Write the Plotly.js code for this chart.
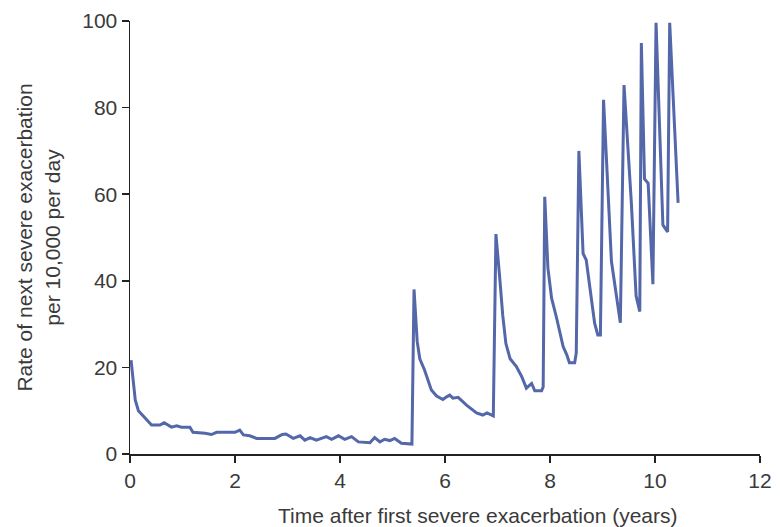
<!DOCTYPE html>
<html>
<head>
<meta charset="utf-8">
<script src="https://cdn.plot.ly/plotly-3.0.1.min.js"></script>
<style>
  html, body { margin: 0; padding: 0; background: #ffffff; }
  #chart { width: 780px; height: 527px; }
</style>
</head>
<body>
<div id="chart"></div>
<script>
// Time after first severe exacerbation (years)
const timeYears = [
  0.02, 0.06, 0.10, 0.16, 0.29, 0.41, 0.57, 0.65, 0.79, 0.89,
  0.98, 1.14, 1.20, 1.43, 1.55, 1.65, 2.00, 2.09, 2.16, 2.28,
  2.41, 2.76, 2.90, 2.97, 3.11, 3.24, 3.33, 3.43, 3.55, 3.74,
  3.84, 3.97, 4.09, 4.22, 4.35, 4.57, 4.66, 4.76, 4.85, 4.95,
  5.04, 5.17, 5.37, 5.41, 5.47, 5.52, 5.61, 5.74, 5.84, 5.96,
  6.03, 6.09, 6.15, 6.25, 6.41, 6.60, 6.72, 6.80, 6.92, 6.97,
  7.04, 7.10, 7.16, 7.24, 7.36, 7.46, 7.55, 7.65, 7.71, 7.84,
  7.87, 7.90, 7.96, 8.03, 8.12, 8.25, 8.32, 8.37, 8.47, 8.50,
  8.55, 8.63, 8.69, 8.79, 8.85, 8.91, 8.96, 9.02, 9.17, 9.34,
  9.41, 9.55, 9.64, 9.71, 9.74, 9.80, 9.87, 9.96, 10.02, 10.15,
  10.24, 10.28, 10.44
];
// Rate of next severe exacerbation per 10,000 per day
const ratePer10000 = [
  21.7, 17.0, 12.5, 10.0, 8.3, 6.7, 6.7, 7.2, 6.2, 6.5,
  6.2, 6.2, 5.0, 4.8, 4.5, 5.0, 5.0, 5.5, 4.4, 4.2,
  3.6, 3.6, 4.5, 4.6, 3.6, 4.2, 3.2, 3.8, 3.2, 4.0,
  3.4, 4.2, 3.4, 4.0, 2.8, 2.6, 3.8, 2.8, 3.4, 3.1,
  3.6, 2.5, 2.3, 38.0, 26.0, 22.0, 19.4, 14.8, 13.4, 12.6,
  13.2, 13.6, 12.9, 13.1, 11.3, 9.5, 9.0, 9.5, 8.8, 50.8,
  41.0, 32.0, 25.5, 22.0, 20.2, 17.9, 15.2, 16.3, 14.6, 14.6,
  15.5, 59.4, 43.0, 36.0, 31.7, 24.8, 22.9, 21.1, 21.1, 23.3,
  70.0, 46.3, 44.8, 36.3, 30.2, 27.5, 27.5, 81.8, 44.5, 30.3,
  85.2, 57.9, 36.5, 32.9, 94.9, 63.5, 62.5, 39.2, 99.6, 52.9,
  51.3, 99.6, 58.0
];
const xTicks = [0, 2, 4, 6, 8, 10, 12];
const yTicks = [0, 20, 40, 60, 80, 100];
const xTitle = 'Time after first severe exacerbation (years)';
const yTitle = 'Rate of next severe exacerbation<br>per 10,000 per day';

const textColor = '#3a3a3a';
const fontFamily = 'Liberation Sans, Arial, sans-serif';

const trace = {
  x: timeYears,
  y: ratePer10000,
  type: 'scatter',
  mode: 'lines',
  line: { color: '#5367a9', width: 3 },
  hoverinfo: 'skip'
};

const layout = {
  width: 780,
  height: 527,
  margin: { l: 130, r: 20, t: 21, b: 73 },
  paper_bgcolor: '#ffffff',
  plot_bgcolor: '#ffffff',
  showlegend: false,
  font: { family: fontFamily, size: 21, color: textColor },
  xaxis: {
    range: [0, 12],
    tickvals: xTicks,
    ticktext: xTicks.map(String),
    showgrid: false,
    zeroline: false,
    showline: true,
    linecolor: '#222222',
    linewidth: 1.5,
    ticks: 'outside',
    ticklen: 7,
    tickwidth: 1.5,
    tickcolor: '#222222',
    tickfont: { family: fontFamily, size: 21, color: textColor }
  },
  yaxis: {
    range: [0, 100],
    tickvals: yTicks,
    ticktext: yTicks.map(String),
    showgrid: false,
    zeroline: false,
    showline: true,
    linecolor: '#222222',
    linewidth: 1.5,
    ticks: 'outside',
    ticklen: 7,
    tickwidth: 1.5,
    tickcolor: '#222222',
    tickfont: { family: fontFamily, size: 21, color: textColor },
    title: {
      text: yTitle,
      font: { family: fontFamily, size: 21, color: textColor },
      standoff: 16
    }
  },
  annotations: [{
    text: xTitle,
    xref: 'paper', yref: 'paper',
    x: 0.552, y: -0.112,
    xanchor: 'center', yanchor: 'top',
    showarrow: false,
    font: { family: fontFamily, size: 21, color: textColor }
  }]
};

Plotly.newPlot('chart', [trace], layout, { displayModeBar: false, staticPlot: true });
</script>
</body>
</html>
